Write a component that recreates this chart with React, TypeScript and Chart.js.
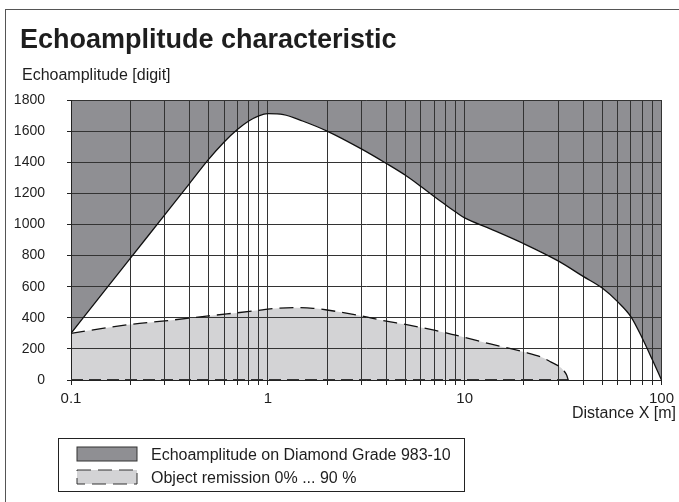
import React, { useEffect, useRef } from 'react';
import { Chart, registerables } from 'chart.js';

Chart.register(...registerables);

// ---- data ----
const upperX = [0.1, 0.15, 0.2, 0.3, 0.4, 0.5, 0.6, 0.7, 0.8, 0.9, 1, 1.2, 1.5, 2, 3, 4, 5, 6, 7, 8, 9, 10, 13.5, 20, 30, 40, 50, 60, 70, 80, 90, 100];
const upperY = [300, 582, 782, 1063, 1263, 1418, 1530, 1610, 1665, 1698, 1712, 1706, 1665, 1600, 1484, 1392, 1316, 1244, 1180, 1126, 1080, 1042, 972, 876, 764, 666, 591, 502, 406, 267, 128, 0];

const lowerX = [0.1, 0.2, 0.3, 0.5, 0.9, 1, 1.4, 1.7, 2, 3, 4, 5, 7, 9, 10, 13.5, 20, 25, 27.5, 30, 32, 33, 33.6];
const lowerY = [300, 357, 380, 412, 448, 456, 465, 461, 450, 412, 378, 357, 320, 288, 274, 232, 180, 143, 115, 90, 58, 30, 0];

const baseX = [0.1, 33.6];
const baseY = [0, 0];

const xGridValues = [0.1, 0.2, 0.3, 0.4, 0.5, 0.6, 0.7, 0.8, 0.9, 1, 2, 3, 4, 5, 6, 7, 8, 9, 10, 20, 30, 40, 50, 60, 70, 80, 90, 100];
const xLabelValues = [0.1, 1, 10, 100];
const xLabels = ['0.1', '1', '10', '100'];
const yMin = 0;
const yMax = 1800;
const yStep = 200;

const titleText = 'Echoamplitude characteristic';
const yTitle = 'Echoamplitude [digit]';
const xTitle = 'Distance X [m]';
const legendLabels = ['Echoamplitude on Diamond Grade 983-10', 'Object remission 0% ... 90 %'];

const DARK = '#8f8f93';
const LIGHT = '#d3d3d5';
const GRID = '#333333';
const TEXT = '#1e1e1e';
const SANS = '"Liberation Sans", Arial, Helvetica, sans-serif';

export default function App() {
  const ref = useRef<HTMLCanvasElement | null>(null);

  useEffect(() => {
    if (!ref.current) return;
    const pts = (xs: number[], ys: number[]) => xs.map((x, i) => ({ x, y: ys[i] }));
    const chart = new Chart(ref.current, {
      type: 'line',
      data: {
        datasets: [
          {
            label: legendLabels[0],
            data: pts(upperX, upperY),
            borderColor: '#111',
            borderWidth: 1.3,
            backgroundColor: DARK,
            fill: 'end',
            pointRadius: 0,
            cubicInterpolationMode: 'monotone',
          },
          {
            label: legendLabels[1],
            data: pts(lowerX, lowerY),
            borderColor: '#111',
            borderWidth: 1.3,
            borderDash: [14, 7],
            backgroundColor: LIGHT,
            fill: 'origin',
            pointRadius: 0,
            cubicInterpolationMode: 'monotone',
          },
          {
            label: 'base',
            data: pts(baseX, baseY),
            borderColor: '#333',
            borderWidth: 2,
            borderDash: [12, 6],
            fill: false,
            pointRadius: 0,
          },
        ],
      },
      options: {
        responsive: false,
        animation: false,
        events: [],
        layout: { padding: { left: 0, right: 17, top: 100, bottom: 92 } },
        plugins: {
          legend: { display: false },
          tooltip: { enabled: false },
          title: { display: false },
          filler: { drawTime: 'beforeDraw', propagate: false },
        } as any,
        scales: {
          x: {
            type: 'logarithmic',
            min: 0.1,
            max: 100,
            afterBuildTicks: (s: any) => {
              s.ticks = xGridValues.map((v) => ({ value: v }));
            },
            afterFit: (s: any) => {
              s.height = 30;
            },
            ticks: {
              autoSkip: false,
              maxRotation: 0,
              minRotation: 0,
              padding: 5,
              color: TEXT,
              font: { family: SANS, size: 15 },
              callback: (v: any) => {
                const i = xLabelValues.findIndex((l) => Math.abs(l - Number(v)) < 1e-9);
                return i >= 0 ? xLabels[i] : '';
              },
            },
            grid: { color: GRID, lineWidth: 1, tickLength: 5, tickColor: '#222' },
            border: { display: true, color: '#222', width: 1 },
          },
          y: {
            type: 'linear',
            min: yMin,
            max: yMax,
            afterFit: (s: any) => {
              s.width = 71;
            },
            ticks: {
              stepSize: yStep,
              padding: 22,
              color: TEXT,
              font: { family: SANS, size: 14 },
              callback: (v: any) => String(v),
            },
            grid: { color: GRID, lineWidth: 1, tickLength: 4, tickColor: '#222' },
            border: { display: true, color: '#222', width: 1 },
          },
        },
      } as any,
    });
    return () => chart.destroy();
  }, []);

  const swatch = (fill: string, dashed: boolean) => (
    <svg width={62} height={16} style={{ display: 'block' }}>
      <rect
        x={1}
        y={1}
        width={60}
        height={14}
        fill={fill}
        stroke="#333"
        strokeWidth={1}
        strokeDasharray={dashed ? '14 7' : undefined}
      />
    </svg>
  );

  const txt = (size: number): React.CSSProperties => ({
    position: 'absolute',
    font: `${size}px ${SANS}`,
    lineHeight: `${size}px`,
    color: TEXT,
    whiteSpace: 'nowrap',
  });

  return (
    <div style={{ position: 'absolute', left: 0, top: 0, width: 679, height: 502, overflow: 'hidden', background: '#fff' }}>
      <div style={{ position: 'absolute', left: 5, top: 9, width: 674, height: 493, borderLeft: '1px solid #555', borderTop: '1px solid #555', boxSizing: 'border-box' }} />
      <canvas ref={ref} width={679} height={502} style={{ position: 'absolute', left: 0, top: 0 }} />
      <div style={{ position: 'absolute', left: 20, top: 26, font: `bold 27px ${SANS}`, lineHeight: '27px', color: TEXT, whiteSpace: 'nowrap' }}>{titleText}</div>
      <div style={{ ...txt(16), left: 22, top: 67 }}>{yTitle}</div>
      <div style={{ ...txt(16), right: 3, top: 405 }}>{xTitle}</div>
      <div style={{ position: 'absolute', left: 58, top: 438, width: 407, height: 54, border: '1px solid #222', boxSizing: 'border-box' }} />
      <div style={{ position: 'absolute', left: 76, top: 446 }}>{swatch(DARK, false)}</div>
      <div style={{ position: 'absolute', left: 76, top: 469 }}>{swatch(LIGHT, true)}</div>
      <div style={{ ...txt(16), left: 151, top: 447 }}>{legendLabels[0]}</div>
      <div style={{ ...txt(16), left: 151, top: 470 }}>{legendLabels[1]}</div>
    </div>
  );
}
